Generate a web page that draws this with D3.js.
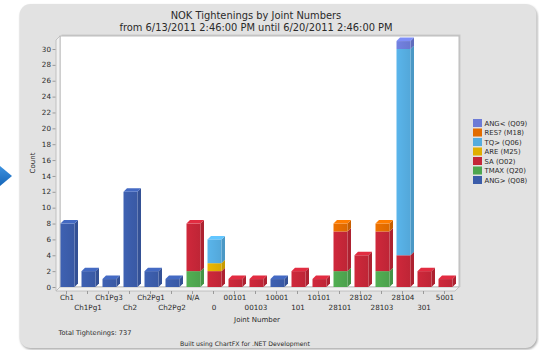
<!DOCTYPE html>
<html>
<head>
<meta charset="utf-8">
<script src="https://cdn.jsdelivr.net/npm/d3@7"></script>
<style>
  html, body { margin: 0; padding: 0; background: #ffffff; }
  svg { display: block; }
  text { font-family: "DejaVu Sans", Verdana, sans-serif; fill: #2a2a2a; }
</style>
</head>
<body>
<svg id="chart" width="539" height="350"></svg>
<script>
// Joint numbers along the x axis
const categories = ["Ch1","Ch1Pg1","Ch1Pg3","Ch2","Ch2Pg1","Ch2Pg2","N/A","0","00101","00103",
                    "10001","101","10101","28101","28102","28103","28104","301","5001"];

// NOK counts per failure type, one value per joint number
const angGt = [8,2,1,12,2,1,0,0,0,0,1,0,0,0,0,0,0,0,0];   // ANG> (Q08)
const tmax  = [0,0,0,0,0,0,2,0,0,0,0,0,0,2,0,2,0,0,0];    // TMAX (Q20)
const sa    = [0,0,0,0,0,0,6,2,1,1,0,2,1,5,4,5,4,2,1];    // SA (O02)
const are   = [0,0,0,0,0,0,0,1,0,0,0,0,0,0,0,0,0,0,0];    // ARE (M25)
const tqGt  = [0,0,0,0,0,0,0,3,0,0,0,0,0,0,0,0,26,0,0];   // TQ> (Q06)
const resQ  = [0,0,0,0,0,0,0,0,0,0,0,0,0,1,0,1,0,0,0];    // RES? (M18)
const angLt = [0,0,0,0,0,0,0,0,0,0,0,0,0,0,0,0,1,0,0];    // ANG< (Q09)

// Stack order, bottom first
const seriesNames  = ["ANG> (Q08)","TMAX (Q20)","SA (O02)","ARE (M25)","TQ> (Q06)","RES? (M18)","ANG< (Q09)"];
const seriesValues = [angGt, tmax, sa, are, tqGt, resQ, angLt];
const seriesColors = ["#3b5ca9","#4ea64f","#c42638","#e0ae00","#55acdf","#e26c00","#6d7bd6"];

const yTicks = d3.range(0, 31, 2);
const titleLines = ["NOK Tightenings by Joint Numbers",
                    "from 6/13/2011 2:46:00 PM until 6/20/2011 2:46:00 PM"];
const totalTightenings = 737;

// table for d3.stack
const table = categories.map((c, i) => {
  const row = { joint: c };
  seriesNames.forEach((s, k) => row[s] = seriesValues[k][i]);
  return row;
});
const stacked = d3.stack().keys(seriesNames)(table);

const svg = d3.select("#chart");
const defs = svg.append("defs");

// panel shadow blur
defs.append("filter").attr("id", "soft").attr("x", "-5%").attr("y", "-5%")
  .attr("width", "110%").attr("height", "110%")
  .append("feGaussianBlur").attr("stdDeviation", 1.2);

// arrow gradient
const ag = defs.append("linearGradient").attr("id", "arrowGrad")
  .attr("x1", 0).attr("y1", 0).attr("x2", 0).attr("y2", 1);
ag.append("stop").attr("offset", 0).attr("stop-color", "#3d92e0");
ag.append("stop").attr("offset", 1).attr("stop-color", "#1565b8");

// front-face gradients per series
seriesColors.forEach((col, k) => {
  const g = defs.append("linearGradient").attr("id", "front" + k)
    .attr("x1", 0).attr("y1", 0).attr("x2", 1).attr("y2", 0);
  g.append("stop").attr("offset", 0).attr("stop-color", d3.color(col).brighter(0.15));
  g.append("stop").attr("offset", 1).attr("stop-color", d3.color(col).darker(0.08));
});

// outer panel
svg.append("rect").attr("x", 20.5).attr("y", 5.5).attr("width", 517).attr("height", 344)
  .attr("rx", 11).attr("fill", "#a9a9a9").attr("filter", "url(#soft)");
svg.append("rect").attr("x", 19.5).attr("y", 4).attr("width", 517).attr("height", 344)
  .attr("rx", 11).attr("fill", "#e2e2e2");

// blue pointer at the left edge
svg.append("polygon").attr("points", "0,166 12,176 0,186").attr("fill", "url(#arrowGrad)");

// scales
const x = d3.scaleBand().domain(categories).range([56.5, 455.5]);
const y = d3.scaleLinear().domain([0, 30]).range([287, 49]);
const depth = 3.5;
const barW = 14;

// 3D plot frame: back wall, left wall, floor
const plotL = 60, plotR = 459, plotT = 36, base = y(0);
svg.append("rect").attr("x", plotL + 1.5).attr("y", plotT - 1.5).attr("width", plotR - plotL)
  .attr("height", base - plotT + 1.5).attr("fill", "#c9c9c9");
svg.append("rect").attr("x", plotL).attr("y", plotT).attr("width", plotR - plotL)
  .attr("height", base - plotT).attr("fill", "#ffffff").attr("stroke", "#bdbdbd").attr("stroke-width", 1);
svg.append("polygon")
  .attr("points", `${plotL - 4},${plotT + 4} ${plotL},${plotT} ${plotL},${base} ${plotL - 4},${base + 4}`)
  .attr("fill", "#f1f1f1").attr("stroke", "#b8b8b8").attr("stroke-width", 0.8);
svg.append("polygon")
  .attr("points", `${plotL - 4},${base + 4} ${plotL},${base} ${plotR},${base} ${plotR - 4},${base + 4}`)
  .attr("fill", "#f1f1f1").attr("stroke", "#b8b8b8").attr("stroke-width", 0.8);

// y axis ticks and labels
const yAxis = svg.append("g");
yAxis.selectAll("line").data(yTicks).join("line")
  .attr("x1", 52.5).attr("x2", 55.5)
  .attr("y1", d => y(d) + 0.5).attr("y2", d => y(d) + 0.5)
  .attr("stroke", "#9a9a9a").attr("stroke-width", 1);
yAxis.selectAll("text").data(yTicks).join("text")
  .attr("x", 51).attr("y", d => y(d) + 2.6)
  .attr("text-anchor", "end").attr("font-size", 7.2).attr("fill", "#3a3a3a").text(d => d);

svg.append("text").attr("transform", "translate(34.5,163) rotate(-90)")
  .attr("text-anchor", "middle").attr("font-size", 7).text("Count");

// x axis ticks and staggered labels
const xAxis = svg.append("g");
const cx = c => x(c) + x.bandwidth() / 2;
xAxis.selectAll("line").data(categories).join("line")
  .attr("x1", d => cx(d) - 0.5).attr("x2", d => cx(d) - 0.5)
  .attr("y1", base + 4).attr("y2", base + 7)
  .attr("stroke", "#9a9a9a").attr("stroke-width", 1);
xAxis.selectAll("text").data(categories).join("text")
  .attr("x", d => cx(d)).attr("y", (d, i) => i % 2 === 0 ? 300 : 310)
  .attr("text-anchor", "middle").attr("font-size", 7.2).attr("fill", "#3a3a3a").text(d => d);

svg.append("text").attr("x", 257).attr("y", 322).attr("text-anchor", "middle")
  .attr("font-size", 7).text("Joint Number");

// bars
const bars = svg.append("g");
categories.forEach((c, i) => {
  const x0 = cx(c) - barW / 2 + 0.5;
  const x1 = x0 + barW;
  // topmost non-empty segment gets the lid
  let topK = -1;
  stacked.forEach((s, k) => { if (s[i][1] > s[i][0]) topK = k; });
  stacked.forEach((s, k) => {
    const v0 = s[i][0], v1 = s[i][1];
    if (v1 <= v0) return;
    const yb = y(v0), yt = y(v1);
    const col = seriesColors[k];
    bars.append("polygon")
      .attr("points", `${x1},${yb} ${x1 + depth},${yb - depth} ${x1 + depth},${yt - depth} ${x1},${yt}`)
      .attr("fill", d3.color(col).darker(0.35));
    bars.append("rect").attr("x", x0).attr("y", yt).attr("width", barW).attr("height", yb - yt)
      .attr("fill", `url(#front${k})`);
    if (k === topK) {
      bars.append("polygon")
        .attr("points", `${x0},${yt} ${x0 + depth},${yt - depth} ${x1 + depth},${yt - depth} ${x1},${yt}`)
        .attr("fill", d3.color(col).brighter(0.4));
    }
  });
});

// legend, top entry is the last stacked series
const legend = svg.append("g");
const legendOrder = seriesNames.map((n, k) => k).reverse();
legendOrder.forEach((k, r) => {
  const ly = 119 + r * 9.5;
  legend.append("rect").attr("x", 473).attr("y", ly).attr("width", 9).attr("height", 8)
    .attr("fill", seriesColors[k]);
  legend.append("text").attr("x", 484.5).attr("y", ly + 6.8).attr("font-size", 6.9)
    .attr("fill", "#3a3a3a").text(seriesNames[k]);
});

// titles
svg.append("text").attr("x", 256).attr("y", 18.5).attr("text-anchor", "middle")
  .attr("font-size", 9.9).text(titleLines[0]);
svg.append("text").attr("x", 256).attr("y", 30.5).attr("text-anchor", "middle")
  .attr("font-size", 9.9).text(titleLines[1]);

// footer
svg.append("text").attr("x", 58.5).attr("y", 334.5).attr("font-size", 6.6)
  .text("Total Tightenings: " + totalTightenings);
svg.append("text").attr("x", 245).attr("y", 346).attr("text-anchor", "middle")
  .attr("font-size", 6.2).text("Built using ChartFX for .NET Development");
</script>
</body>
</html>
